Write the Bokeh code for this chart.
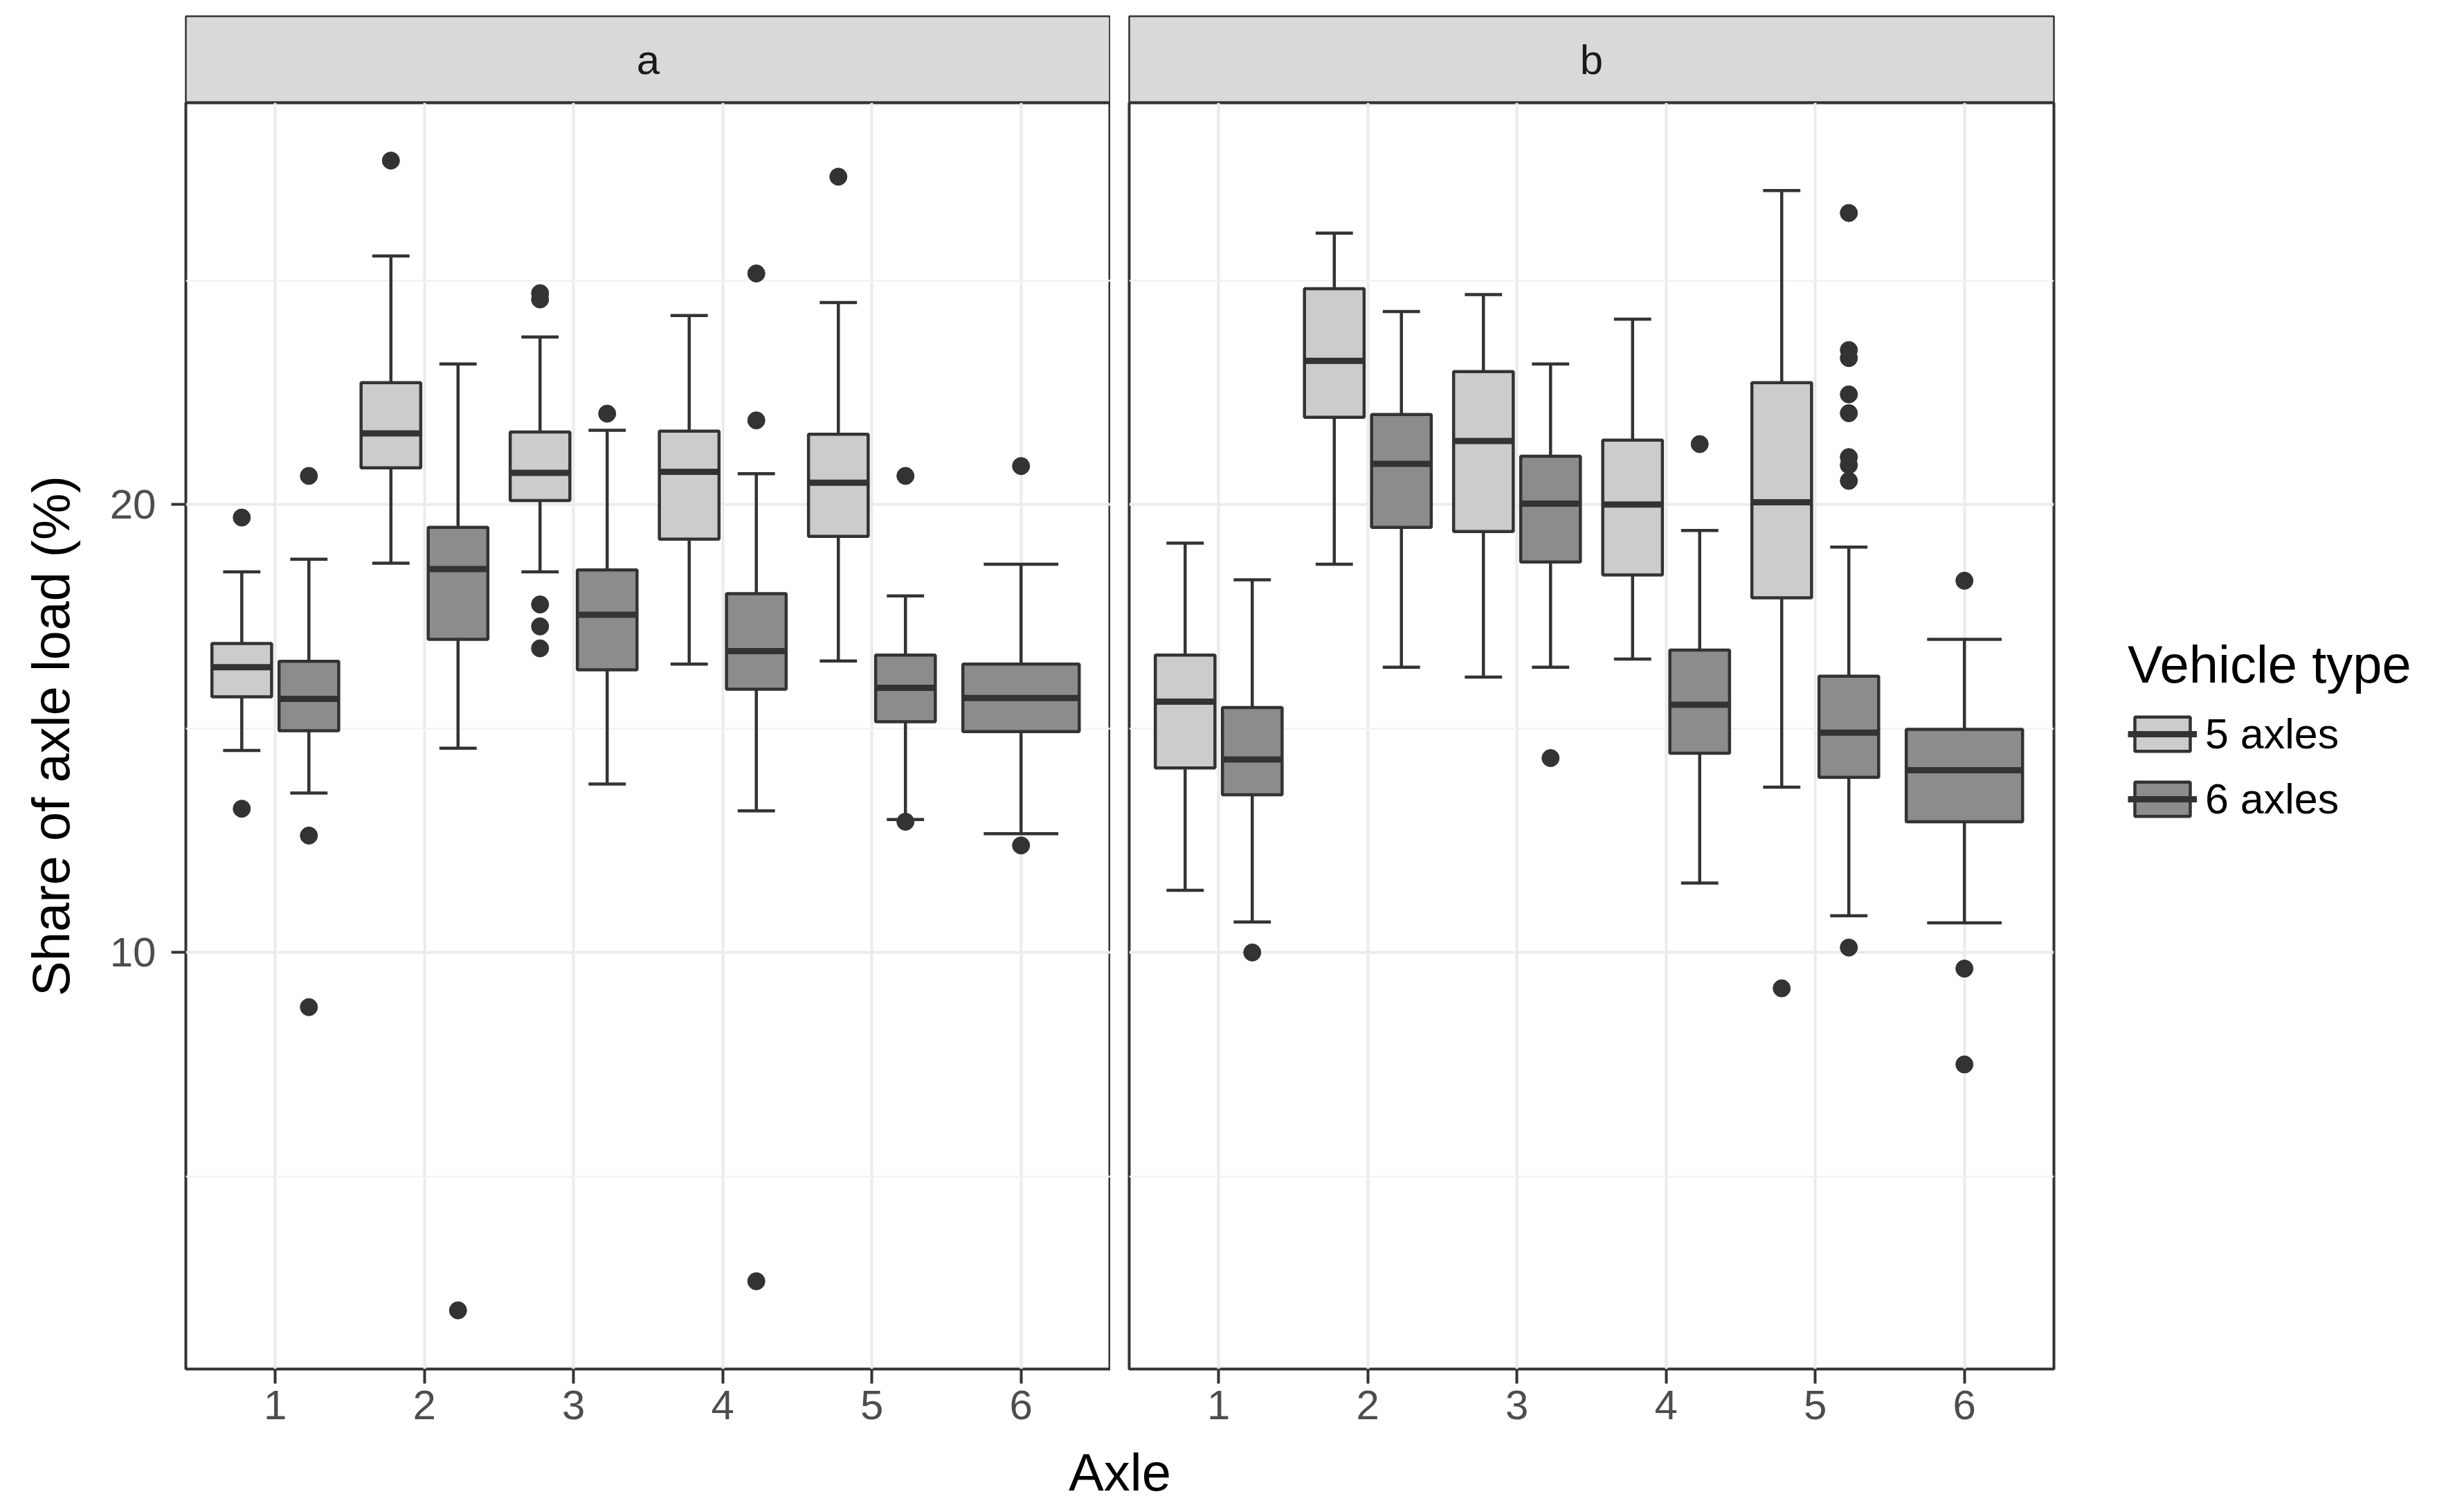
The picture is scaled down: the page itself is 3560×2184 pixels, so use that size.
from bokeh.plotting import figure
from bokeh.models import (ColumnDataSource, Range1d, FixedTicker, Label,
                          Legend, LegendItem)
from bokeh.layouts import row, column
from bokeh.embed import file_html
from bokeh.resources import INLINE

# ---------------- data ----------------
axle_ticks = [1, 2, 3, 4, 5, 6]
panel_names = ["a", "b"]
series_names = ["5 axles", "6 axles"]

# panel a, 5 axles
a5_axle = [1, 2, 3, 4, 5]
a5_low = [14.51, 18.69, 18.50, 16.44, 16.51]
a5_q1 = [15.71, 20.82, 20.09, 19.23, 19.29]
a5_med = [16.37, 21.59, 20.71, 20.73, 20.49]
a5_q3 = [16.90, 22.72, 21.62, 21.64, 21.57]
a5_up = [18.50, 25.55, 23.74, 24.22, 24.51]
a5_out_axle = [1, 1, 2, 3, 3, 3, 3, 3, 5]
a5_out_val = [19.71, 13.21, 27.68, 24.72, 24.58, 17.77, 17.28, 16.79, 27.32]

# panel a, 6 axles
a6_axle = [1, 2, 3, 4, 5, 6]
a6_low = [13.56, 14.56, 13.76, 13.16, 12.97, 12.65]
a6_q1 = [14.95, 16.99, 16.31, 15.88, 15.15, 14.93]
a6_med = [15.66, 18.56, 17.54, 16.73, 15.91, 15.68]
a6_q3 = [16.50, 19.49, 18.54, 18.01, 16.64, 16.44]
a6_up = [18.78, 23.14, 21.66, 20.69, 17.96, 18.67]
a6_out_axle = [1, 1, 1, 2, 3, 4, 4, 4, 5, 5, 6, 6]
a6_out_val = [20.64, 12.61, 8.78, 2.01, 22.03, 25.16, 21.88, 2.66, 20.64, 12.92, 20.86, 12.39]

# panel b, 5 axles
b5_axle = [1, 2, 3, 4, 5]
b5_low = [11.39, 18.67, 16.15, 16.55, 13.69]
b5_q1 = [14.12, 21.95, 19.40, 18.43, 17.92]
b5_med = [15.60, 23.21, 21.42, 20.00, 20.05]
b5_q3 = [16.64, 24.82, 22.97, 21.44, 22.72]
b5_up = [19.14, 26.06, 24.69, 24.14, 27.01]
b5_out_axle = [5]
b5_out_val = [9.20]

# panel b, 6 axles
b6_axle = [1, 2, 3, 4, 5, 6]
b6_low = [10.68, 16.37, 16.37, 11.55, 10.82, 10.66]
b6_q1 = [13.52, 19.49, 18.72, 14.45, 13.91, 12.92]
b6_med = [14.31, 20.91, 20.02, 15.53, 14.91, 14.07]
b6_q3 = [15.47, 22.01, 21.08, 16.75, 16.17, 14.98]
b6_up = [18.32, 24.31, 23.14, 19.42, 19.05, 16.99]
b6_out_axle = [1, 3, 4, 5, 5, 5, 5, 5, 5, 5, 5, 5, 6, 6, 6]
b6_out_val = [10.00, 14.34, 21.35, 26.51, 23.45, 23.27, 22.46, 22.04, 21.06, 20.88,
              20.53, 10.11, 18.30, 9.64, 7.50]

y_ticks = [10, 20]
y_minor_ticks = [5, 15, 25]

# ---------------- style ----------------
FONT = "Liberation Sans"
FILL = {"5 axles": "#CCCCCC", "6 axles": "#8C8C8C"}
LINE = "#333333"
Y_LO, Y_HI = 0.70, 28.97          # panel data range (ggplot expansion)
X_LO, X_HI = 0.4, 6.6
FRAME_W, FRAME_H, STRIP_H = 1336, 1829, 125
LEFT_B, GAP, RIGHT_B = 268, 27, 580
TOP_B, BOTTOM_B = 23, 84

DODGE, PAIR_W, SINGLE_W = 0.225, 0.40, 0.78
PAIR_CAP, SINGLE_CAP = 0.25, 0.50
LW, MED_LW = 4.5, 9

TICK_FS, TITLE_FS = "60px", "76px"


def box_sources(axle, low, q1, med, q3, up, out_axle, out_val, sign, other_axles):
    xs, ws, cs = [], [], []
    for ax in axle:
        if ax in other_axles:
            xs.append(ax + sign * DODGE); ws.append(PAIR_W); cs.append(PAIR_CAP)
        else:
            xs.append(ax); ws.append(SINGLE_W); cs.append(SINGLE_CAP)
    box = ColumnDataSource(dict(
        x=xs, w=ws, low=low, q1=q1, med=med, q3=q3, up=up,
        xl=[x - w / 2 for x, w in zip(xs, ws)], xr=[x + w / 2 for x, w in zip(xs, ws)],
        cl=[x - c / 2 for x, c in zip(xs, cs)], cr=[x + c / 2 for x, c in zip(xs, cs)]))
    pos = dict(zip(axle, xs))
    out = ColumnDataSource(dict(x=[pos[a] for a in out_axle], y=out_val))
    return box, out


def draw_series(p, box, out, name):
    p.segment(x0="x", y0="low", x1="x", y1="q1", source=box, line_color=LINE, line_width=LW)
    p.segment(x0="x", y0="q3", x1="x", y1="up", source=box, line_color=LINE, line_width=LW)
    p.segment(x0="cl", y0="low", x1="cr", y1="low", source=box, line_color=LINE, line_width=LW)
    p.segment(x0="cl", y0="up", x1="cr", y1="up", source=box, line_color=LINE, line_width=LW)
    rb = p.vbar(x="x", width="w", bottom="q1", top="q3", source=box,
                fill_color=FILL[name], line_color=LINE, line_width=LW)
    rm = p.segment(x0="xl", y0="med", x1="xr", y1="med", source=box,
                   line_color=LINE, line_width=MED_LW)
    p.scatter(x="x", y="y", source=out, size=25, fill_color=LINE, line_color=LINE)
    return rb, rm


def make_strip(label, first):
    s = figure(frame_width=FRAME_W, frame_height=STRIP_H,
               x_range=Range1d(0, 1), y_range=Range1d(0, 1),
               toolbar_location=None, output_backend="svg",
               min_border_left=LEFT_B if first else GAP,
               min_border_right=0 if first else RIGHT_B,
               min_border_top=TOP_B, min_border_bottom=0,
               background_fill_color="#D9D9D9", border_fill_color="white",
               outline_line_color=LINE, outline_line_width=2.5)
    s.axis.visible = False
    s.grid.visible = False
    s.add_layout(Label(x=0.5, y=0.5, text=label, text_align="center",
                       text_baseline="middle", text_font=FONT,
                       text_font_size=TICK_FS, text_color="#1A1A1A"))
    return s


def make_panel(data5, data6, first):
    p = figure(frame_width=FRAME_W, frame_height=FRAME_H,
               x_range=Range1d(X_LO, X_HI), y_range=Range1d(Y_LO, Y_HI),
               toolbar_location=None, output_backend="svg",
               min_border_left=LEFT_B if first else GAP,
               min_border_right=0 if first else RIGHT_B,
               min_border_top=0, min_border_bottom=BOTTOM_B,
               background_fill_color="white", border_fill_color="white",
               outline_line_color=LINE, outline_line_width=4)
    # grids
    p.xgrid.ticker = FixedTicker(ticks=axle_ticks)
    p.xgrid.grid_line_color = "#EBEBEB"
    p.xgrid.grid_line_width = 4
    p.ygrid.ticker = FixedTicker(ticks=y_ticks, minor_ticks=y_minor_ticks)
    p.ygrid.grid_line_color = "#EBEBEB"
    p.ygrid.grid_line_width = 4
    p.ygrid.minor_grid_line_color = "#F2F2F2"
    p.ygrid.minor_grid_line_width = 2.5

    # axes
    p.xaxis.ticker = FixedTicker(ticks=axle_ticks)
    p.yaxis.ticker = FixedTicker(ticks=y_ticks)
    for ax in (p.xaxis[0], p.yaxis[0]):
        ax.axis_line_color = None
        ax.major_tick_line_color = LINE
        ax.major_tick_line_width = 4
        ax.major_tick_in = 0
        ax.major_tick_out = 21
        ax.minor_tick_line_color = None
        ax.major_label_text_font = FONT
        ax.major_label_text_font_size = TICK_FS
        ax.major_label_text_color = "#4D4D4D"
    p.xaxis.major_label_standoff = 10
    p.yaxis.major_label_standoff = 22
    if first:
        p.yaxis.axis_label = "Share of axle load (%)"
        p.yaxis.axis_label_text_font = FONT
        p.yaxis.axis_label_text_font_size = TITLE_FS
        p.yaxis.axis_label_text_font_style = "normal"
        p.yaxis.axis_label_text_color = "black"
        p.yaxis.axis_label_standoff = 40
    else:
        p.yaxis.visible = False

    # boxes
    (ax5, lo5, q15, md5, q35, up5, oa5, ov5) = data5
    (ax6, lo6, q16, md6, q36, up6, oa6, ov6) = data6
    s5, o5 = box_sources(ax5, lo5, q15, md5, q35, up5, oa5, ov5, -1, ax6)
    s6, o6 = box_sources(ax6, lo6, q16, md6, q36, up6, oa6, ov6, +1, ax5)
    r5 = draw_series(p, s5, o5, "5 axles")
    r6 = draw_series(p, s6, o6, "6 axles")
    return p, r5, r6


sa = make_strip(panel_names[0], True)
sb = make_strip(panel_names[1], False)
pa, _, _ = make_panel((a5_axle, a5_low, a5_q1, a5_med, a5_q3, a5_up, a5_out_axle, a5_out_val),
                      (a6_axle, a6_low, a6_q1, a6_med, a6_q3, a6_up, a6_out_axle, a6_out_val),
                      True)
pb, rb5, rb6 = make_panel((b5_axle, b5_low, b5_q1, b5_med, b5_q3, b5_up, b5_out_axle, b5_out_val),
                          (b6_axle, b6_low, b6_q1, b6_med, b6_q3, b6_up, b6_out_axle, b6_out_val),
                          False)

legend = Legend(
    items=[LegendItem(label=series_names[0], renderers=list(rb5)),
           LegendItem(label=series_names[1], renderers=list(rb6))],
    title="Vehicle type", title_text_font=FONT, title_text_font_size=TITLE_FS,
    title_text_font_style="normal", title_text_color="black", title_standoff=22,
    label_text_font=FONT, label_text_font_size="61px", label_text_color="black",
    glyph_width=100, glyph_height=62, label_height=70, label_standoff=12,
    spacing=24, padding=0, margin=0, border_line_color=None,
    background_fill_alpha=0, location=(107, 788))
pb.add_layout(legend, "right")

# shared x-axis title, centred below both panels
px = figure(frame_width=2 * FRAME_W + GAP, height=110, x_range=Range1d(0, 1),
            y_range=Range1d(0, 1), toolbar_location=None, output_backend="svg",
            min_border_left=LEFT_B, min_border_right=0, min_border_top=0,
            min_border_bottom=0, outline_line_color=None)
px.grid.visible = False
px.yaxis.visible = False
px.xaxis.ticker = FixedTicker(ticks=[])
px.xaxis.axis_line_color = None
px.xaxis.major_tick_line_color = None
px.xaxis.minor_tick_line_color = None
px.xaxis.axis_label = "Axle"
px.xaxis.axis_label_text_font = FONT
px.xaxis.axis_label_text_font_size = TITLE_FS
px.xaxis.axis_label_text_font_style = "normal"
px.xaxis.axis_label_text_color = "black"
px.xaxis.axis_label_standoff = 0

layout = column(row(sa, sb), row(pa, pb), px)
open("out.html", "w").write(file_html(layout, INLINE))
